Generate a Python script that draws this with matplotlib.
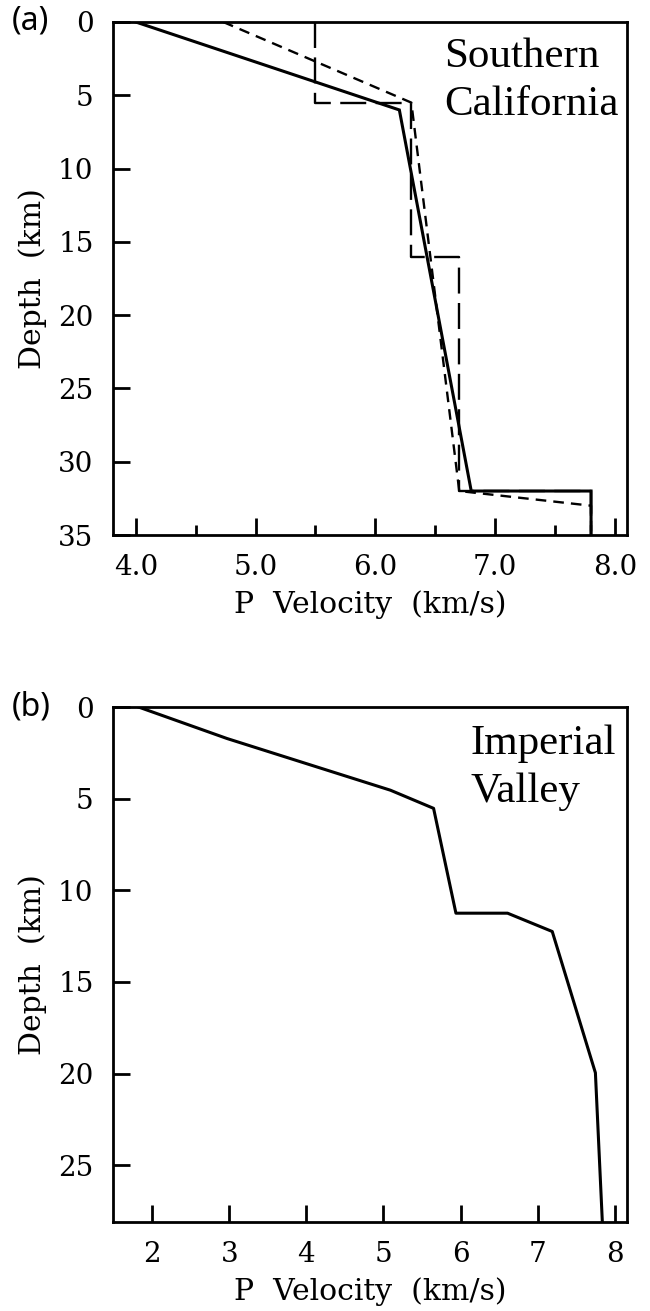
import numpy as np
import matplotlib
matplotlib.use("Agg")
from matplotlib import pyplot as plt

# (a) Southern California models: velocity (km/s) vs depth (km)
socal_grad_v = [4.0, 6.2, 6.8, 7.8, 7.8]
socal_grad_z = [0.0, 6.0, 32.0, 32.0, 35.0]

socal_alt_v = [4.73, 6.3, 6.7, 7.8, 7.8]
socal_alt_z = [0.0, 5.5, 32.0, 33.0, 35.0]

# layered (Hadley-Kanamori style) model
socal_layer_v = [5.5, 5.5, 6.3, 6.3, 6.7, 6.7, 7.8, 7.8]
socal_layer_z = [0.0, 5.5, 5.5, 16.0, 16.0, 32.0, 32.0, 35.0]

# (b) Imperial Valley model
imp_v = [1.82, 2.97, 5.09, 5.65, 5.94, 6.61, 7.19, 7.75, 7.84]
imp_z = [0.0, 1.72, 4.54, 5.53, 11.25, 11.25, 12.25, 19.96, 28.1]

top_xticks = [4.0, 5.0, 6.0, 7.0, 8.0]
top_xminor = [4.5, 5.5, 6.5, 7.5]
top_yticks = [0, 5, 10, 15, 20, 25, 30, 35]
bot_xticks = [2, 3, 4, 5, 6, 7, 8]
bot_yticks = [0, 5, 10, 15, 20, 25]

W, H = 650, 1311
fig = plt.figure(figsize=(W / 100, H / 100), dpi=100)

tick_font = dict(family="DejaVu Serif", size=20)
lab_font = dict(family="DejaVu Serif", size=21.5)


def px_axes(left, top, right, bottom):
    return fig.add_axes([left / W, 1 - bottom / H, (right - left) / W, (bottom - top) / H])


def style(ax):
    for s in ax.spines.values():
        s.set_linewidth(2.0)
    ax.tick_params(which="major", direction="in", length=12, width=2.0,
                   top=False, right=False, pad=14)
    ax.tick_params(which="minor", direction="in", length=7, width=2.0,
                   top=False, right=False)
    ax.tick_params(axis="y", which="major", pad=14)
    for lab in ax.get_xticklabels() + ax.get_yticklabels():
        lab.set_fontfamily(tick_font["family"])
        lab.set_fontsize(tick_font["size"])
    ax.set_xlabel("P  Velocity  (km/s)", fontdict=lab_font, labelpad=6)
    ax.set_ylabel("Depth  (km)", fontdict=lab_font, labelpad=8)


# ---- panel (a)
ax1 = px_axes(113, 22, 627, 535)
ax1.plot(socal_grad_v, socal_grad_z, color="black", lw=2.2, solid_joinstyle="miter")
ax1.plot(socal_alt_v, socal_alt_z, color="black", lw=1.7, dashes=(4.5, 3.0))
ax1.plot(socal_layer_v, socal_layer_z, color="black", lw=1.7, dashes=(11, 4))
ax1.set_xlim(3.81, 8.1)
ax1.set_ylim(35, 0)
ax1.set_xticks(top_xticks)
ax1.set_xticklabels([f"{v:.1f}" for v in top_xticks])
ax1.set_xticks(top_xminor, minor=True)
ax1.set_yticks(top_yticks)
style(ax1)
ax1.text(0.645, 0.819, "Southern\nCalifornia", transform=ax1.transAxes,
         family="Liberation Serif", fontsize=31, va="baseline", ha="left", linespacing=1.33)
fig.text(12 / W, 1 - 30 / H, "(a)", family="Noto Sans", fontsize=23, va="baseline")

# ---- panel (b)
ax2 = px_axes(113, 707, 627, 1222)
ax2.plot(imp_v, imp_z, color="black", lw=2.2)
ax2.set_xlim(1.49, 8.16)
ax2.set_ylim(28.1, 0)
ax2.set_xticks(bot_xticks)
ax2.set_yticks(bot_yticks)
style(ax2)
ax2.text(0.695, 0.816, "Imperial\nValley", transform=ax2.transAxes,
         family="Liberation Serif", fontsize=31, va="baseline", ha="left", linespacing=1.33)
fig.text(12 / W, 1 - 715 / H, "(b)", family="Noto Sans", fontsize=23, va="baseline")

fig.savefig("out.png", dpi=100)
